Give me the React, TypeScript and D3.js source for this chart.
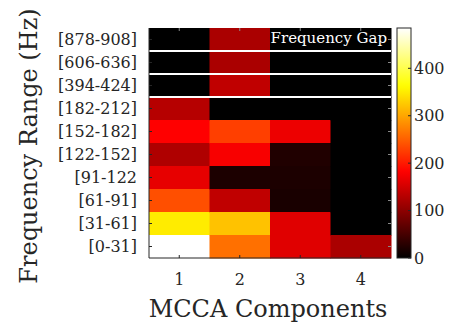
import React from 'react';
import * as d3 from 'd3';

// frequency bands, top to bottom
const bands = ['[878-908]', '[606-636]', '[394-424]', '[182-212]', '[152-182]', '[122-152]', '[91-122', '[61-91]', '[31-61]', '[0-31]'];
const components = ['1', '2', '3', '4'];

// values per MCCA component, same order as bands
const comp1 = [0, 0, 0, 130, 182, 125, 165, 238, 350, 485];
const comp2 = [121, 121, 137, 0, 227, 177, 20, 137, 320, 262];
const comp3 = [0, 0, 0, 0, 169, 23, 20, 18, 160, 160];
const comp4 = [0, 0, 0, 0, 0, 0, 0, 0, 0, 121];

const cbarTicks = [0, 100, 200, 300, 400];
const cmax = 485;
// rows followed by a white gap line
const gapAfter = ['[878-908]', '[606-636]', '[394-424]'];

// matlab "hot"
function hot(t: number) {
  const c = (v: number) => Math.round(255 * Math.max(0, Math.min(1, v)));
  return `rgb(${c(t / 0.375)},${c((t - 0.375) / 0.375)},${c((t - 0.75) / 0.25)})`;
}

const W = 453, H = 325;
const plot = { left: 149, right: 391, top: 28, bottom: 258 };
const cbar = { left: 397, right: 411 };
const font = "'DejaVu Serif', 'Liberation Serif', serif";
const axisCol = '#262626';

export default function App() {
  const x = d3.scaleBand().domain(components).range([plot.left, plot.right]);
  const y = d3.scaleBand().domain(bands).range([plot.top, plot.bottom]);
  const color = d3.scaleSequential((t: number) => hot(t)).domain([0, cmax]);
  const cy = d3.scaleLinear().domain([0, cmax]).range([plot.bottom, plot.top]);

  const cols = [comp1, comp2, comp3, comp4];
  const cells: { b: string; c: string; v: number }[] = [];
  components.forEach((c, j) => bands.forEach((b, i) => cells.push({ b, c, v: cols[j][i] })));

  const stops = d3.range(0, 1.0001, 0.02);

  return (
    <svg width={W} height={H} style={{ position: 'absolute', left: 0, top: 0, background: '#fff' }}>
      <defs>
        <linearGradient id="hotGrad" x1="0" y1="1" x2="0" y2="0">
          {stops.map(s => <stop key={s} offset={s} stopColor={hot(s)} />)}
        </linearGradient>
      </defs>

      {cells.map(d => (
        <rect key={d.b + d.c} x={x(d.c)} y={y(d.b)} width={x.bandwidth() + 0.5} height={y.bandwidth() + 0.5}
          fill={color(d.v)} />
      ))}

      {gapAfter.map(b => (
        <line key={b} x1={plot.left} x2={plot.right} y1={(y(b) as number) + y.bandwidth()} y2={(y(b) as number) + y.bandwidth()}
          stroke="#fff" strokeWidth={2} />
      ))}

      <text x={387} y={43} fill="#fff" style={{ fontFamily: font }} fontSize={15} textAnchor="end">Frequency Gap</text>

      {/* axes */}
      <line x1={plot.left} x2={plot.left} y1={plot.top} y2={plot.bottom} stroke={axisCol} strokeWidth={1} />
      <line x1={plot.left} x2={plot.right} y1={plot.bottom} y2={plot.bottom} stroke={axisCol} strokeWidth={1} />
      {components.map(c => {
        const cx = (x(c) as number) + x.bandwidth() / 2;
        return (
          <g key={c}>
            <line x1={cx} x2={cx} y1={plot.bottom} y2={plot.bottom - 3} stroke={axisCol} />
            <line x1={cx} x2={cx} y1={plot.top} y2={plot.top + 3} stroke="#888" />
            <text x={cx} y={285} textAnchor="middle" style={{ fontFamily: font }} fontSize={16} fill={axisCol}>{c}</text>
          </g>
        );
      })}
      {bands.map(b => {
        const yy = (y(b) as number) + y.bandwidth() / 2;
        return (
          <g key={b}>
            <line x1={plot.left} x2={plot.left + 3} y1={yy} y2={yy} stroke={axisCol} />
            <line x1={plot.right} x2={plot.right - 3} y1={yy} y2={yy} stroke="#888" />
            <text x={137} y={yy} dy="0.36em" textAnchor="end" style={{ fontFamily: font }} fontSize={16} fill={axisCol}>{b}</text>
          </g>
        );
      })}

      <text x={268} y={317} textAnchor="middle" style={{ fontFamily: font }} fontSize={24} fill={axisCol}>MCCA Components</text>
      <text transform="translate(37,146) rotate(-90)" textAnchor="middle" style={{ fontFamily: font }} fontSize={24} fill={axisCol}>Frequency Range (Hz)</text>

      {/* colorbar */}
      <rect x={cbar.left} y={plot.top} width={cbar.right - cbar.left} height={plot.bottom - plot.top}
        fill="url(#hotGrad)" stroke={axisCol} strokeWidth={1} />
      {cbarTicks.map(t => (
        <g key={t}>
          <line x1={cbar.right} x2={cbar.right - 3} y1={cy(t)} y2={cy(t)} stroke={axisCol} />
          <text x={414} y={cy(t)} dy="0.36em" style={{ fontFamily: font }} fontSize={16} fill={axisCol}>{t}</text>
        </g>
      ))}
    </svg>
  );
}
